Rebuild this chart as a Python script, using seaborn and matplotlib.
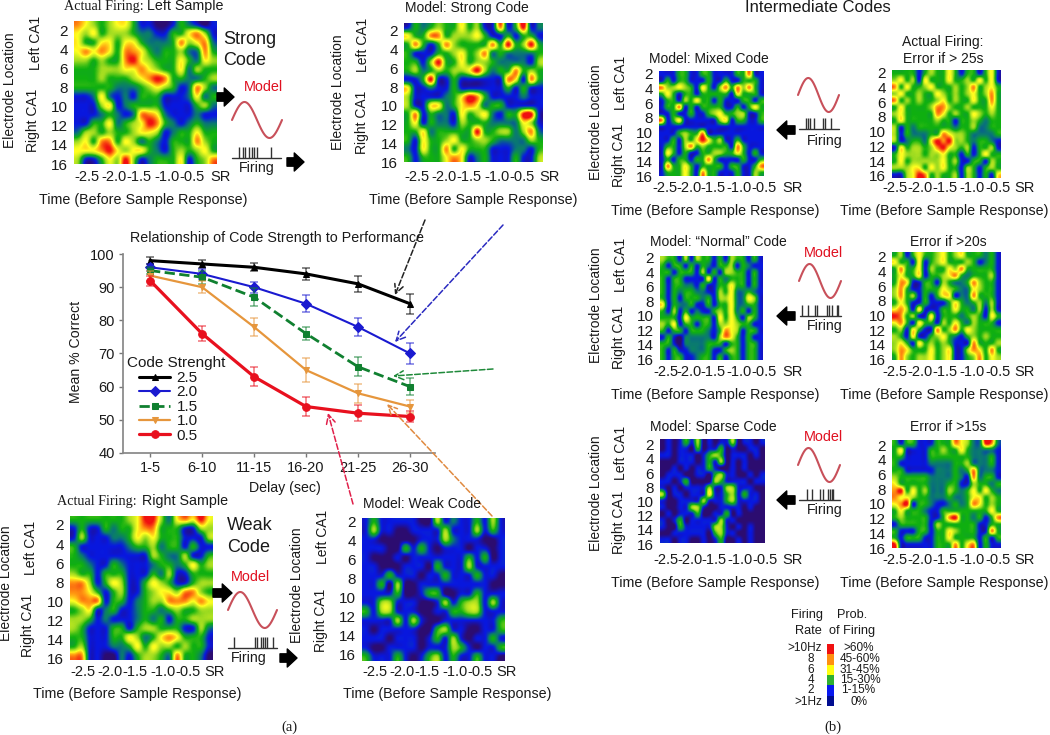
import numpy as np
import pandas as pd
import seaborn as sns
import matplotlib
matplotlib.use("Agg")
import matplotlib.pyplot as plt
from matplotlib.colors import LinearSegmentedColormap, ListedColormap

# line chart values
delays = ["1-5", "6-10", "11-15", "16-20", "21-25", "26-30"]
mean_25 = [98, 97, 96, 94, 91, 85]
mean_20 = [96, 94, 90, 85, 78, 70]
mean_15 = [95, 93, 87, 76, 66, 60]
mean_10 = [93.5, 90, 78, 65, 58, 54]
mean_05 = [92, 76, 63, 54, 52, 51]
err_25 = [1, 1.2, 1.2, 1.7, 2.5, 3]
err_20 = [1, 1.5, 1.7, 2.5, 2.8, 3.3]
err_15 = [1, 2, 2.8, 2, 2.8, 2.5]
err_10 = [1.5, 1.8, 2.8, 3.5, 2.8, 2]
err_05 = [1.5, 2.3, 2.8, 2.8, 2.5, 1.8]

# heatmap values, colour level per electrode row (0 navy .. 7 red)
left_actual = ["654345 531100 132101", "545344 432211 335641", "533553 553222 364562", "565653 665323 342263",
               "443433 675433 353254", "333444 556543 352433", "333433 345676 332234", "333332 223454 312642",
               "112521 213331 112523", "111451 233331 111342", "111232 126652 111211", "113352 345763 212322",
               "244343 345541 233533", "453663 542321 333643", "555675 455321 343453", "411354 741233 351346"]
strong_model = ["132343 353411 613712", "533663 444531 131331", "363136 433336 373473", "311133 453462 322223",
                "331473 353443 222214", "342343 445742 336343", "113711 311111 165163", "511211 311111 131311",
                "411112 357631 111211", "411552 356523 311111", "361322 153452 133771", "351322 143332 222541",
                "335233 333733 442462", "315334 533443 222243", "215336 353331 112213", "313335 651231 113114"]
right_actual = ["333333 345774 256575", "131132 335663 331144", "141112 235453 331114", "311111 123342 331311",
                "321111 111143 224113", "332113 211123 323534", "433133 311132 411333", "664135 411354 311344",
                "665313 411345 546643", "566613 312344 666565", "345123 112332 343344", "443121 112323 133444",
                "431113 313443 331142", "331113 354235 653331", "341112 235354 434331", "661100 213443 263320"]
weak_model = ["131111 100412 113141", "141100 111141 114131", "110000 011142 111001", "111003 131011 101101",
              "100010 111111 131301", "110001 110311 141111", "111311 101131 113110", "113040 011111 111100",
              "111130 013300 113111", "114411 100141 344141", "314411 100113 344111", "111141 410011 111113",
              "101111 100341 100113", "111011 101314 101131", "100111 101114 310113", "311131 013413 113110"]
mixed_model = ["111331 133111 133611", "131331 113113 113331", "644543 153146 364631", "353133 133333 153331",
               "133143 533131 113313", "133613 133331 131353", "113113 113453 344113", "613511 111145 133113",
               "111111 111111 111111", "111343 361111 111111", "113143 575341 131111", "133146 343333 163111",
               "153131 133443 353131", "131331 336311 113113", "163353 133331 331136", "133353 163311 131143"]
error_25 = ["333313 433531 331351", "453415 333533 435351", "635334 533343 463453", "453343 354343 453463",
            "634343 345343 353363", "353333 466433 433353", "453333 365343 354343", "353333 343313 343233",
            "413233 333323 342233", "413222 336544 322223", "412332 576744 323321", "153443 467543 413341",
            "354443 445331 313533", "353444 445341 133143", "444553 545331 431343", "114576 343341 431315"]
normal_model = ["433141 433131 433131", "313313 132133 413211", "331333 141314 433131", "313311 115132 333131",
                "313322 131133 533131", "313233 221143 522321", "313133 323144 522541", "513223 113133 522331",
                "314131 211343 523131", "333153 333153 531431", "435133 133144 543311", "313313 332136 541331",
                "131022 222146 531311", "331022 223331 331331", "313112 223113 431331", "313311 233131 331331"]
error_20 = ["341353 345345 333231", "533151 345333 431231", "363351 433546 333331", "353351 334563 233341",
            "365113 314322 364331", "463113 335432 254331", "463413 135512 263331", "353113 111353 234241",
            "564151 113353 324141", "763411 513332 343153", "563153 314353 243331", "341531 163463 543333",
            "431511 345321 343433", "453153 434311 163334", "465333 534511 465363", "364344 534511 346354"]
sparse_model = ["010131 401011 401101", "010110 301130 100110", "110111 013430 111010", "000111 013140 101000",
                "001010 113100 101000", "011100 110341 100101", "110130 000431 111011", "101011 114114 411100",
                "401101 115113 413110", "100111 141113 411110", "100114 410011 110100", "010111 300113 010000",
                "101301 111141 100000", "100311 111441 010100", "001111 110341 100100", "110110 010130 010100"]
error_15 = ["313311 133365 422762", "351111 334335 322221", "331111 333333 322231", "311111 222233 422231",
            "331111 122232 362221", "433333 222232 162331", "533333 222331 143323", "673534 222432 353532",
            "655433 222322 355343", "567133 211232 365343", "353332 113333 333353", "343333 113673 323136",
            "133333 143333 331133", "311133 133543 331163", "313331 133533 331313", "711111 133363 561311"]

legend_levels = [7, 6, 5, 3, 1, 0]
rate_labels = [">10Hz", "8", "6", "4", "2", ">1Hz"]
prob_labels = [">60%", "45-60%", "31-45%", "15-30%", "1-15%", "0%"]
tick_rows = ["2", "4", "6", "8", "10", "12", "14", "16"]
tick_times = ["-2.5", "-2.0", "-1.5", "-1.0", "-0.5"]

sns.set_theme(style="white")
plt.rcParams["font.family"] = ["Liberation Sans", "DejaVu Sans"]
plt.rcParams["text.color"] = "#1a1a1a"

W, H = 1050, 735
fig = plt.figure(figsize=(10.5, 7.35), dpi=100)

level_cmap = LinearSegmentedColormap.from_list(
    "firing", ["#2c0c70", "#0818e0", "#0a7a70", "#10b010", "#a0dc20", "#ffff20", "#ff9010", "#f01010"])


def px_axes(x0, y0, x1, y1):
    return fig.add_axes([x0 / W, 1 - y1 / H, (x1 - x0) / W, (y1 - y0) / H])


def firing_map(rows, box, tick_span, offsets, xpad):
    x0, y0, x1, y1 = box
    vals = np.array([[int(c) for c in r.replace(" ", "")] for r in rows])
    ax = px_axes(x0, y0, x1, y1)
    sns.heatmap(vals, ax=ax, cbar=False, cmap=level_cmap, vmin=0, vmax=7, xticklabels=False, yticklabels=False)
    # smooth version on top of the seaborn cells
    ax.imshow(vals, extent=(0, vals.shape[1], vals.shape[0], 0), aspect="auto", cmap=level_cmap,
              vmin=0, vmax=7, interpolation="catrom", zorder=3)
    ax.set_xlim(0, vals.shape[1])
    ax.set_ylim(vals.shape[0], 0)
    ax.set_yticks(np.linspace(tick_span[0], tick_span[1], 8), tick_rows, fontsize=11, rotation=0)
    ax.set_xticks([o / (x1 - x0) * vals.shape[1] for o in offsets[:5]], tick_times, fontsize=10.5)
    ax.tick_params(length=0, colors="#1a1a1a")
    ax.tick_params(axis="y", pad=4.5)
    ax.tick_params(axis="x", pad=xpad)
    return ax


big = [13, 40, 65, 93, 118, 147]
small = [6, 30, 54, 81, 106, 134]
wide = [3, 28, 53, 80, 106, 133]

firing_map(left_actual, (74, 21, 217, 164), (1.04, 16), big, 4.3)
firing_map(strong_model, (404, 23, 543, 162), (0.9, 16), big, 5.8)
firing_map(right_actual, (70, 516, 213, 660), (1.0, 15.8), big, 3.6)
firing_map(weak_model, (362, 518, 505, 661), (0.4, 15.3), big, 2.9)
firing_map(mixed_model, (659, 71, 764, 176), (0.45, 16), small, 3.6)
firing_map(error_25, (892, 70, 1000, 178), (0.4, 15.7), wide, 2.2)
firing_map(normal_model, (660, 256, 764, 360), (0.25, 15.9), small, 3.6)
firing_map(error_20, (892, 252, 1000, 360), (0.7, 15.9), wide, 3.6)
firing_map(sparse_model, (660, 439, 765, 544), (0.9, 16.2), small, 6.5)
firing_map(error_15, (892, 440, 1000, 548), (0.75, 16), wide, 3.6)

# line chart
ax = px_axes(123, 254, 435, 453)
series = [("2.5", mean_25, err_25, "#000000", "^", "-", 2.2, 5),
          ("2.0", mean_20, err_20, "#1a1ad0", "D", "-", 1.5, 5),
          ("1.5", mean_15, err_15, "#108030", "s", "--", 2.0, 5),
          ("1.0", mean_10, err_10, "#e6963c", "v", "-", 1.6, 5),
          ("0.5", mean_05, err_05, "#e8101e", "o", "-", 2.3, 5.5)]
for name, vals, errs, col, mark, ls, lw, ms in series:
    df = pd.DataFrame({"delay": delays, "pct": vals})
    ax.errorbar(delays, vals, yerr=errs, fmt="none", ecolor=col, alpha=0.55, elinewidth=1.2, capsize=3, capthick=1.2)
    sns.lineplot(data=df, x="delay", y="pct", ax=ax, color=col, marker=mark, markersize=ms, markeredgecolor=col,
                 linestyle=ls, linewidth=lw, sort=False, errorbar=None, label=name)
ax.set_xlim(-0.52, 5.48)
ax.set_ylim(40, 100)
ax.set_yticks([40, 50, 60, 70, 80, 90, 100])
ax.set_xlabel("")
ax.set_ylabel("")
ax.tick_params(labelsize=10.5, length=3, color="#777777", width=1, left=True, bottom=True, pad=3, labelcolor="#1a1a1a")
for side in ["top", "right"]:
    ax.spines[side].set_visible(False)
for side in ["left", "bottom"]:
    ax.spines[side].set_color("#888888")
ax.patch.set_alpha(0)
ax.legend(loc="upper left", bbox_to_anchor=(139 / W, 1 - 371 / H), bbox_transform=fig.transFigure, frameon=False,
          fontsize=11, labelspacing=0.03, handlelength=2.05, handletextpad=0.4, borderpad=0, borderaxespad=0)

# colour key
key = px_axes(827, 644, 834, 706)
sns.heatmap(np.array(legend_levels).reshape(-1, 1), ax=key, cbar=False, xticklabels=False, yticklabels=False,
            cmap=ListedColormap(["#000c90", "#0818f0", "#0a7a70", "#30b030", "#a0dc20", "#ffff10", "#ff9010", "#f01010"]),
            vmin=0, vmax=7)

# everything else in picture pixels
ov = fig.add_axes([0, 0, 1, 1], zorder=10)
ov.set_xlim(0, W)
ov.set_ylim(H, 0)
ov.axis("off")


def label(x, y, s, size=10.2, color="#1a1a1a", ha="center", rot=0, family=None):
    ov.text(x, y, s, fontsize=size, color=color, ha=ha, va="center", rotation=rot, family=family)


def side_labels(x_e, y_e, x_l, y_l, x_r, y_r):
    label(x_e, y_e, "Electrode Location", rot=90, size=10)
    label(x_l, y_l, "Left CA1", rot=90, size=10)
    label(x_r, y_r, "Right CA1", rot=90, size=10)


def time_label(x, y, x_sr, y_sr):
    label(x, y, "Time (Before Sample Response)", size=10.25)
    label(x_sr, y_sr, "SR", size=10.5)


def wave_and_spikes(x0, x1, yc, amp, bx0, bx1, by, spikes, fx, fy):
    t = np.linspace(0, 1, 80)
    ov.plot(x0 + (x1 - x0) * t, yc - amp * np.sin(2 * np.pi * t), color="#c8505a", lw=1.5)
    ov.plot([bx0, bx1], [by, by], color="#333333", lw=1)
    ov.vlines(spikes, by - 11, by, color="#333333", lw=1)
    label(fx, fy, "Firing")


def fat_arrow(x0, x1, y):
    ov.annotate("", xy=(x1, y), xytext=(x0, y),
                arrowprops=dict(width=6, headwidth=13, headlength=7, color="black", shrink=0))


def link(x0, y0, x1, y1, col, ls="--"):
    ov.annotate("", xy=(x1, y1), xytext=(x0, y0),
                arrowprops=dict(arrowstyle="->", color=col, lw=1.1, linestyle=ls, mutation_scale=16, shrinkA=0, shrinkB=0))


# panel (a)
label(64, 6, "Actual Firing:", size=10.2, ha="left", family="Liberation Serif")
label(147, 6, "Left Sample", size=10.3, ha="left")
label(467, 8, "Model: Strong Code", size=10)
label(223, 39, "Strong", size=13, ha="left")
label(223, 60, "Code", size=13, ha="left")
label(263, 87, "Model", color="#e01020", size=10.4)
side_labels(10, 90, 36, 43, 33, 120)
side_labels(338, 92, 363, 45, 362, 122)
time_label(143, 200, 221, 177)
time_label(473, 200, 550, 177)
wave_and_spikes(232, 282, 120, 18, 232, 281, 158, [239, 243, 245, 249, 252, 254, 257, 271], 257, 168)
fat_arrow(217, 234, 97)
fat_arrow(287, 304, 162)

label(277, 238, "Relationship of Code Strength to Performance", size=10.3)
label(285, 488, "Delay (sec)")
label(76, 352, "Mean % Correct", rot=90)
label(127, 363, "Code Strenght", size=11, ha="left")
link(425, 220, 395, 295, "#222222")
link(503, 225, 395, 342, "#2a2ac0")
link(493, 369, 393, 376, "#1f8a3a")
link(353, 504, 328, 413, "#e0204a")
link(492, 516, 387, 404, "#e08a40")

label(57, 501, "Actual Firing:", size=10.2, ha="left", family="Liberation Serif")
label(142, 501, "Right Sample", size=10.3, ha="left")
label(422, 504, "Model: Weak Code", size=10)
label(227, 526, "Weak", size=13, ha="left")
label(227, 547, "Code", size=13, ha="left")
label(250, 577, "Model", color="#e01020", size=10.4)
side_labels(6, 583, 31, 548, 28, 625)
side_labels(297, 585, 323, 537, 321, 620)
time_label(137, 694, 215, 672)
time_label(447, 694, 507, 672)
wave_and_spikes(228, 277, 610, 18, 228, 277, 648, [234, 255, 257, 261, 263, 265, 267, 273], 249, 658)
fat_arrow(213, 232, 593)
fat_arrow(280, 297, 658)
label(289, 727, "(a)", size=10.5, family="Liberation Serif")

# panel (b)
label(818, 7, "Intermediate Codes", size=12)
label(709, 59, "Model: Mixed Code", size=10)
label(943, 42, "Actual Firing:", size=10)
label(943, 59, "Error if > 25s", size=10)
side_labels(596, 122, 621, 83, 619, 155)
time_label(715, 211, 793, 188)
time_label(944, 211, 1025, 188)
wave_and_spikes(798, 839, 95, 17, 799, 839, 129, [806, 808, 810, 814, 823, 825, 831], 825, 141)
fat_arrow(795, 777, 130)

label(718, 242, "Model: “Normal” Code", size=10)
label(948, 242, "Error if >20s", size=10)
label(823, 253, "Model", color="#e01020", size=10.4)
side_labels(596, 305, 621, 265, 619, 337)
time_label(715, 395, 793, 372)
time_label(944, 395, 1025, 372)
wave_and_spikes(799, 841, 281, 17, 800, 841, 316, [802, 808, 815, 817, 827, 829, 832, 837, 838], 825, 326)
fat_arrow(795, 777, 316)

label(713, 427, "Model: Sparse Code", size=10)
label(948, 427, "Error if >15s", size=10)
label(823, 437, "Model", color="#e01020", size=10.4)
side_labels(596, 493, 621, 453, 619, 522)
time_label(715, 583, 793, 560)
time_label(944, 583, 1025, 560)
wave_and_spikes(798, 840, 465, 17, 799, 840, 500, [807, 812, 820, 823, 828, 830, 832, 833], 825, 510)
fat_arrow(795, 777, 500)

label(807, 615, "Firing", size=9.2)
label(852, 615, "Prob.", size=9.2)
label(808, 631, "Rate", size=9.2)
label(852, 631, "of Firing", size=9.2)
for y, rate, prob, xr in zip([648, 659, 670, 680, 690, 702], rate_labels, prob_labels, [859, 860, 860, 860, 858, 859]):
    label(822 if "Hz" in rate else 811, y, rate, size=8.5, ha="right" if "Hz" in rate else "center")
    label(xr, y, prob, size=8.5)
label(833, 727, "(b)", size=10.5, family="Liberation Serif")

fig.savefig("out.png", dpi=100)
